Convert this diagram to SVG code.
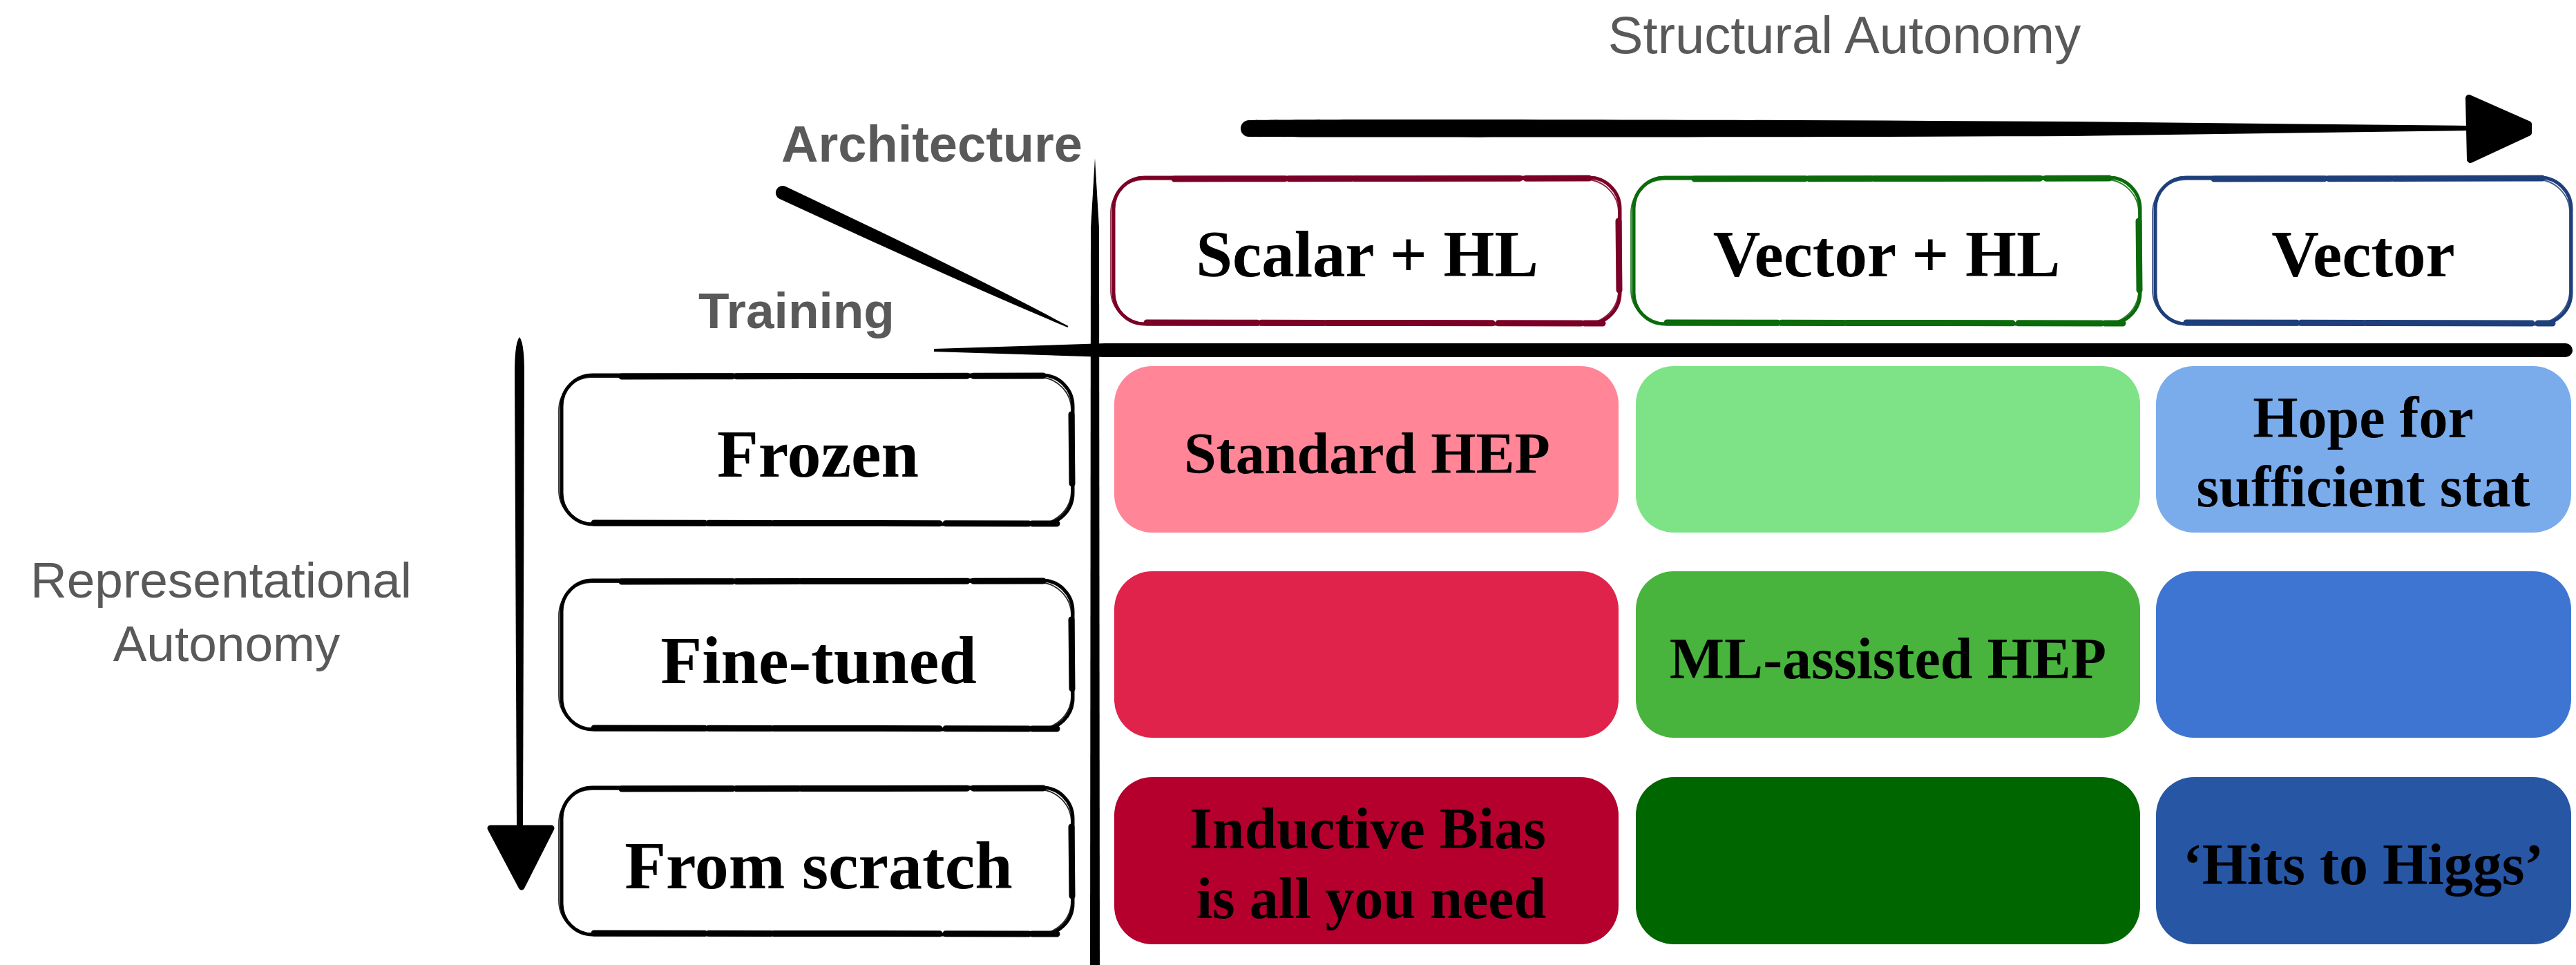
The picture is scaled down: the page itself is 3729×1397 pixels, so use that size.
<svg xmlns="http://www.w3.org/2000/svg" width="3729" height="1397" viewBox="0 0 3729 1397">
<style>
.lbl{font-family:"Liberation Sans",Arial,sans-serif;fill:#595959;text-anchor:middle}
.b{font-weight:bold}
.srf{font-family:"Liberation Serif","Times New Roman",serif;font-weight:bold;fill:#000;text-anchor:middle}
.hd{font-size:95px}
.rw{font-size:98px}
.cl{font-size:84px}
.box{fill:#fff;stroke-width:5}
.ghost{fill:none;stroke-width:1.8;opacity:0.85}
.edge{fill:none;stroke-width:9;stroke-linecap:round;stroke-dasharray:160 6 90 4 240 9 120 5}
.ink{fill:#000}
</style>
<rect width="3729" height="1397" fill="#fff"/>

<g id="axis-labels">
<text class="lbl" x="2670" y="77" font-size="76">Structural Autonomy</text>
<text class="lbl b" x="1349" y="234" font-size="74">Architecture</text>
<text class="lbl b" x="1153" y="475" font-size="73">Training</text>
<text class="lbl" x="320" y="865" font-size="73">Representational</text>
<text class="lbl" x="328" y="957" font-size="73">Autonomy</text>
</g>

<g id="connectors">
<path class="ink" d="M1808,174 C1900,172 2500,173 3000,176 L3572,182 L3572,189 L3000,197 C2500,199 1900,199 1808,198 A12,12 0 0 1 1808,174 Z"/>
<path class="ink" d="M3574,142 L3660,180 L3660,192 L3576,231 Z" stroke="#000" stroke-width="10" stroke-linejoin="round"/>
<path class="ink" d="M1137.3,269.9 Q1420,404 1546.4,472.1 L1545.6,473.9 Q1410,418 1128.7,288.1 A10,10 0 0 1 1137.3,269.9 Z"/>
<path class="ink" d="M1352,505 L1600,497 L3714,497 A10,10 0 0 1 3714,517 L1600,517 L1352,509 Z"/>
<path class="ink" d="M1585,229 L1591,330 L1592,1397 L1578,1397 L1579,330 Z"/>
<path class="ink" d="M752,488 Q759,496 759,540 L757,1198 L748,1198 L745,540 Q745,496 752,488 Z"/>
<path class="ink" d="M710,1199 L798,1199 L755,1284 Z" stroke="#000" stroke-width="9" stroke-linejoin="round"/>
</g>

<g id="col-scalar-hl">
<rect class="box" x="1612" y="257" width="733" height="212" rx="45" stroke="#7b0027"/>
<rect class="ghost" x="1608" y="260" width="735" height="208" rx="48" stroke="#7b0027"/>
<path class="edge" d="M1700,259 L2300,258 M1660,467 L2320,468 M2343,320 L2344,420" stroke="#7b0027"/>
<text class="srf hd" x="1979" y="400">Scalar + HL</text>
</g>
<g id="col-vector-hl">
<rect class="box" x="2365" y="257" width="733" height="212" rx="45" stroke="#0b6b0b"/>
<rect class="ghost" x="2361" y="260" width="735" height="208" rx="48" stroke="#0b6b0b"/>
<path class="edge" d="M2453,259 L3053,258 M2413,467 L3073,468 M3096,320 L3097,420" stroke="#0b6b0b"/>
<text class="srf hd" x="2731" y="400">Vector + HL</text>
</g>
<g id="col-vector">
<rect class="box" x="3120" y="257" width="602" height="212" rx="45" stroke="#1f3f7a"/>
<rect class="ghost" x="3116" y="260" width="604" height="208" rx="48" stroke="#1f3f7a"/>
<path class="edge" d="M3205,259 L3680,258 M3165,467 L3695,468" stroke="#1f3f7a"/>
<text class="srf hd" x="3421" y="400">Vector</text>
</g>

<g id="row-frozen">
<rect class="box" x="813" y="543" width="740" height="216" rx="45" stroke="#000"/>
<rect class="ghost" x="809" y="546" width="742" height="212" rx="48" stroke="#000"/>
<path class="edge" d="M900,545 L1510,544 M860,757 L1530,758 M1551,600 L1552,700" stroke="#000"/>
<text class="srf rw" x="1184" y="690">Frozen</text>
</g>
<g id="row-finetuned">
<rect class="box" x="813" y="840" width="740" height="216" rx="45" stroke="#000"/>
<rect class="ghost" x="809" y="843" width="742" height="212" rx="48" stroke="#000"/>
<path class="edge" d="M900,842 L1510,841 M860,1054 L1530,1055 M1551,897 L1552,997" stroke="#000"/>
<text class="srf rw" x="1185" y="989">Fine-tuned</text>
</g>
<g id="row-scratch">
<rect class="box" x="813" y="1140" width="740" height="213" rx="45" stroke="#000"/>
<rect class="ghost" x="809" y="1143" width="742" height="209" rx="48" stroke="#000"/>
<path class="edge" d="M900,1142 L1510,1141 M860,1351 L1530,1352 M1551,1197 L1552,1297" stroke="#000"/>
<text class="srf rw" x="1185" y="1286">From scratch</text>
</g>

<g id="cell-r1c1"><rect x="1613" y="530" width="730" height="241" rx="55" fill="#ff8597"/><text class="srf cl" x="1979" y="685">Standard HEP</text></g>
<g id="cell-r1c2"><rect x="2368" y="530" width="730" height="241" rx="55" fill="#7ee386"/></g>
<g id="cell-r1c3"><rect x="3121" y="530" width="601" height="241" rx="55" fill="#7aacec"/><text class="srf cl" x="3421" y="633">Hope for</text><text class="srf cl" x="3421" y="733">sufficient stat</text></g>
<g id="cell-r2c1"><rect x="1613" y="827" width="730" height="241" rx="55" fill="#e0234a"/></g>
<g id="cell-r2c2"><rect x="2368" y="827" width="730" height="241" rx="55" fill="#48b43d"/><text class="srf cl" x="2733" y="982">ML-assisted HEP</text></g>
<g id="cell-r2c3"><rect x="3121" y="827" width="601" height="241" rx="55" fill="#3e75d2"/></g>
<g id="cell-r3c1"><rect x="1613" y="1125" width="730" height="242" rx="55" fill="#b5002e"/><text class="srf cl" x="1980" y="1228">Inductive Bias</text><text class="srf cl" x="1985" y="1329">is all you need</text></g>
<g id="cell-r3c2"><rect x="2368" y="1125" width="730" height="242" rx="55" fill="#006600"/></g>
<g id="cell-r3c3"><rect x="3121" y="1125" width="601" height="242" rx="55" fill="#2756a5"/><text class="srf cl" x="3421" y="1280">‘Hits to Higgs’</text></g>
</svg>
